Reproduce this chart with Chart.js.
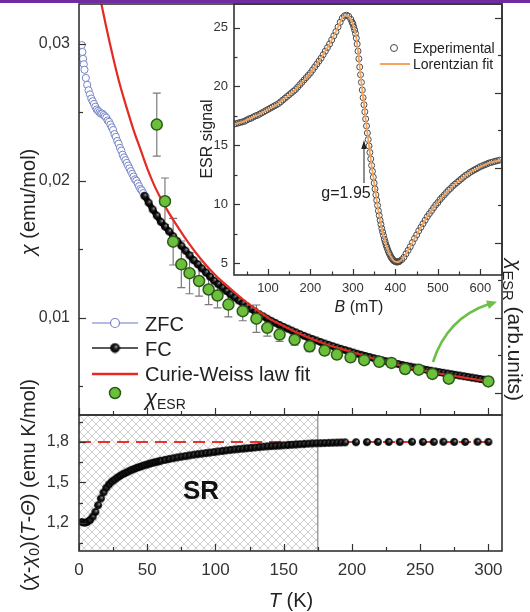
<!DOCTYPE html>
<html><head><meta charset="utf-8">
<script src="https://cdn.jsdelivr.net/npm/chart.js@4.4.1/dist/chart.umd.min.js"></script>
<style>
html,body{margin:0;padding:0;background:#fff;}
#wrap{position:relative;width:530px;height:612px;overflow:hidden;background:#fff;font-family:'Liberation Sans',Arial,Helvetica,sans-serif;color:#222;}
#wrap canvas{position:absolute;left:0;top:0;}
#wrap svg{position:absolute;left:0;top:0;}
.t{position:absolute;white-space:nowrap;line-height:1;}
.c{transform:translate(-50%,-50%);}
.l{transform:translateY(-50%);}
.up{transform:translate(-50%,-50%) rotate(-90deg);}
.dn{transform:translate(-50%,-50%) rotate(90deg);}
sub{font-size:70%;vertical-align:-0.3em;line-height:0;}
#bar{position:absolute;left:0;top:0;width:530px;height:3px;background:#6f2c9f;}
</style></head><body>
<div id="wrap">
<canvas id="cLow" width="530" height="612"></canvas>
<canvas id="cIns" width="530" height="612"></canvas>
<canvas id="cUp" width="530" height="612"></canvas>
<svg width="530" height="612">
  <path d="M433,362 Q447,318 489,304" stroke="#6cc04a" stroke-width="2.6" fill="none"/>
  <polygon points="497,301.7 488.9,309.1 486.1,300.5" fill="#6cc04a"/>
  <line x1="364" y1="183" x2="364" y2="147" stroke="#333" stroke-width="1.1"/>
  <polygon points="364,140 361.3,149 366.7,149" fill="#222"/>
</svg>
<div class="t up" style="left:28px;top:202px;font-size:20px"><i>χ</i> (emu/mol)</div>
<div class="t up" style="left:28px;top:485px;font-size:20px">(<i>χ</i>-<i>χ</i><sub>0</sub>)(<i>T</i>-<i>Θ</i>) (emu K/mol)</div>
<div class="t c" style="left:291px;top:600px;font-size:20px"><i>T</i> (K)</div>
<div class="t c" style="left:201px;top:490px;font-size:26px;font-weight:bold;color:#111">SR</div>
<div class="t up" style="left:207px;top:139px;font-size:16px">ESR signal</div>
<div class="t c" style="left:359px;top:307px;font-size:16px"><i>B</i> (mT)</div>
<div class="t c" style="left:346px;top:193px;font-size:16px">g=1.95</div>
<div class="t l" style="left:413px;top:48px;font-size:14px">Experimental</div>
<div class="t l" style="left:413px;top:64px;font-size:14px">Lorentzian fit</div>
<div class="t dn" style="left:515px;top:330px;font-size:21px"><i>χ</i><sub>ESR</sub> (arb.units)</div>
<div class="t l" style="left:145px;top:324px;font-size:20px">ZFC</div>
<div class="t l" style="left:145px;top:349px;font-size:20px">FC</div>
<div class="t l" style="left:145px;top:374px;font-size:20px">Curie-Weiss law fit</div>
<div class="t l" style="left:145px;top:398px;font-size:20px"><i style="font-size:22px">χ</i><sub>ESR</sub></div>
<div id="bar"></div>
</div>
<script>
// ---------------- data ----------------
const tMajor = [0, 50, 100, 150, 200, 250, 300];
const tLabels = ['0', '50', '100', '150', '200', '250', '300'];
const tMinor = [25, 75, 125, 175, 225, 275];

const upperYMajor = [0.01, 0.02, 0.03];
const upperYLabels = ['0,01', '0,02', '0,03'];
const upperYMinor = [0.005, 0.015, 0.025];
const rightMajor = [0, 2, 4, 6, 8, 10];
const rightMinor = [1, 3, 5, 7, 9];

const lowerYMajor = [1.2, 1.5, 1.8];
const lowerYLabels = ['1,2', '1,5', '1,8'];
const lowerYMinor = [1.05, 1.35, 1.65, 1.95];

const insetXMajor = [100, 200, 300, 400, 500, 600];
const insetXLabels = ['100', '200', '300', '400', '500', '600'];
const insetXMinor = [50, 150, 250, 350, 450, 550];
const insetYMajor = [5, 10, 15, 20, 25];
const insetYLabels = ['5', '10', '15', '20', '25'];
const insetYMinor = [7.5, 12.5, 17.5, 22.5];

// ZFC susceptibility
const zfcT = [2, 2.5, 3, 3.5, 4, 5, 6, 7, 8, 9, 10, 11, 12, 13, 14, 15, 16, 17, 18, 19, 20, 21, 22, 23, 24, 25, 26, 27, 28, 29, 30, 31, 32, 33, 34, 35, 36, 37, 38, 39, 40, 41, 42, 43, 44, 45, 46, 47, 48, 49];
const zfcChi = [0.0299, 0.0294, 0.0289, 0.0285, 0.0281, 0.0275, 0.0270, 0.0266, 0.0263, 0.0260, 0.0258, 0.0256, 0.0254, 0.0252, 0.0251, 0.0250, 0.0249, 0.0249, 0.0248, 0.0247, 0.0246, 0.0244, 0.0243, 0.0241, 0.0239, 0.0237, 0.0234, 0.0232, 0.0229, 0.0227, 0.0224, 0.0222, 0.0219, 0.0217, 0.0215, 0.0213, 0.0211, 0.0209, 0.0207, 0.0205, 0.0203, 0.0201, 0.0200, 0.0198, 0.0196, 0.0194, 0.0193, 0.0191, 0.0189, 0.0188];

// FC susceptibility
const fcT = [48, 51, 54, 57, 60, 63, 66, 69, 72, 75, 78, 81, 84, 87, 90, 93, 96, 99, 102, 105, 108, 111, 114, 117, 120, 123, 126, 129, 132, 135, 138, 141, 144, 147, 150, 153, 156, 159, 162, 165, 168, 171, 174, 177, 180, 183, 186, 189, 192, 195, 198, 201, 204, 207, 210, 213, 216, 219, 222, 225, 228, 231, 234, 237, 240, 243, 246, 249, 252, 255, 258, 261, 264, 267, 270, 273, 276, 279, 282, 285, 288, 291, 294, 297, 300];
const fcChi = [0.0189, 0.0184, 0.0179, 0.01745, 0.0170, 0.01665, 0.0163, 0.01595, 0.0156, 0.01525, 0.0149, 0.01455, 0.0142, 0.0139, 0.0136, 0.0133, 0.0130, 0.0127, 0.01245, 0.0122, 0.01195, 0.0117, 0.01148, 0.01126, 0.01105, 0.01085, 0.01065, 0.01045, 0.01027, 0.0101, 0.00993, 0.00977, 0.00962, 0.00947, 0.00933, 0.0092, 0.00906, 0.00893, 0.0088, 0.00868, 0.00856, 0.00845, 0.00834, 0.00823, 0.00812, 0.00802, 0.00792, 0.00782, 0.00773, 0.00764, 0.00755, 0.00746, 0.00737, 0.00729, 0.00721, 0.00713, 0.00705, 0.00697, 0.0069, 0.00683, 0.00676, 0.00669, 0.00662, 0.00655, 0.00649, 0.00643, 0.00637, 0.00631, 0.00625, 0.00619, 0.00613, 0.00608, 0.00603, 0.00598, 0.00593, 0.00588, 0.00583, 0.00578, 0.00573, 0.00568, 0.00563, 0.00558, 0.00553, 0.00548, 0.00543];

// Curie-Weiss law fit
const cwT = [16, 20, 25, 30, 35, 40, 45, 50, 55, 60, 65, 70, 80, 90, 100, 110, 120, 130, 140, 150, 160, 180, 200, 220, 240, 260, 280, 300];
const cwChi = [0.0331, 0.0312, 0.0290, 0.0270, 0.0253, 0.0237, 0.0223, 0.0209, 0.0197, 0.0187, 0.0178, 0.0170, 0.0155, 0.0142, 0.0131, 0.0122, 0.01135, 0.0106, 0.0099, 0.0094, 0.0089, 0.0081, 0.0075, 0.0069, 0.00643, 0.0060, 0.00567, 0.00535];

// chi_ESR with error bars
const esrT = [57, 63, 69, 75, 81, 88, 95, 101.5, 109.5, 120, 130, 138, 147, 158, 169, 180, 189, 199, 209, 220, 229, 239, 249, 259, 271, 300];
const esrChi = [0.0241, 0.0185, 0.01555, 0.0139, 0.01325, 0.01268, 0.01206, 0.01162, 0.01096, 0.01048, 0.00993, 0.00926, 0.00877, 0.0084, 0.00792, 0.0076, 0.00731, 0.00711, 0.0069, 0.00678, 0.0067, 0.00626, 0.00621, 0.0059, 0.00555, 0.00535];
const esrErr = [0.0023, 0.0017, 0.0017, 0.0017, 0.0015, 0.0011, 0.0011, 0.0009, 0.0009, 0.0007, 0.0010, 0.0006, 0.0005, 0.0004, 0.0004, 0.0003, 0.0003, 0.0003, 0.0003, 0.0003, 0.0003, 0.0003, 0.0003, 0.0003, 0.0003, 0.0003];

// (chi-chi0)(T-Theta) product (lower panel)
const prodT = [2, 4, 6, 8, 10, 12, 14, 16, 18, 20, 22, 24, 26, 28, 30, 32, 34, 36, 38, 40, 42, 44, 46, 48, 50, 52, 54, 56, 58, 60,
  63, 66, 69, 72, 75, 78, 81, 84, 87, 90, 93, 96, 99, 102, 105, 108, 111, 114, 117, 120, 123, 126, 129, 132, 135, 138, 141, 144, 147, 150, 153, 156, 159, 162, 165, 168, 171, 174, 177, 180, 183, 186, 189, 192, 195,
  203, 211, 219, 227, 235, 244, 252, 260, 267, 275, 283, 292, 300];
const prodVal = [1.205, 1.200, 1.205, 1.22, 1.245, 1.28, 1.33, 1.38, 1.425, 1.46, 1.485, 1.505, 1.52, 1.535, 1.548, 1.56, 1.57, 1.58, 1.59, 1.598, 1.606, 1.613, 1.62, 1.627, 1.633, 1.639, 1.645, 1.65, 1.655, 1.66,
  1.667, 1.673, 1.679, 1.685, 1.69, 1.695, 1.70, 1.705, 1.709, 1.713, 1.717, 1.721, 1.725, 1.729, 1.733, 1.737, 1.741, 1.744, 1.747, 1.75, 1.753, 1.756, 1.759, 1.762, 1.765, 1.767, 1.769, 1.771, 1.773, 1.775, 1.777, 1.779, 1.781, 1.783, 1.785, 1.787, 1.789, 1.79, 1.791, 1.792, 1.793, 1.794, 1.795, 1.796, 1.797,
  1.798, 1.799, 1.80, 1.80, 1.80, 1.801, 1.80, 1.80, 1.801, 1.80, 1.80, 1.801, 1.80];
const cwLevel = 1.8;
const cwLevelT = [0, 305];
const srEndT = 175;

// inset ESR spectrum
const esrField = [20, 25, 30, 35, 40, 45, 50, 55, 60, 65, 70, 75, 80, 85, 90, 95, 100, 105, 110, 115, 120, 125, 130, 135, 140, 145, 150, 155, 160, 165, 170, 175, 180, 185, 190, 195, 200, 205, 210, 215, 220, 225, 230, 235, 240, 245, 250, 255, 260, 265, 270, 275, 280, 285, 290, 295,
  298, 300, 302, 304, 306, 308, 310, 312, 314, 316, 318, 320, 322, 324, 326, 328, 330, 332, 334, 336, 338, 340, 342, 344, 346, 348, 350, 352, 354, 356, 358, 360, 362, 364, 366, 368, 370, 372, 374, 376, 378, 380, 382, 384, 386, 388, 390, 392, 394, 396, 398, 400, 402, 404, 406, 408, 410,
  415, 420, 425, 430, 435, 440, 445, 450, 455, 460, 465, 470, 475, 480, 485, 490, 495, 500, 505, 510, 515, 520, 525, 530, 535, 540, 545, 550, 555, 560, 565, 570, 575, 580, 585, 590, 595, 600, 605, 610, 615, 620, 625, 630, 635, 640, 645];
const esrSignal = [16.8, 16.85, 16.9, 16.95, 17.0, 17.05, 17.15, 17.25, 17.3, 17.4, 17.5, 17.55, 17.65, 17.75, 17.85, 17.95, 18.05, 18.15, 18.25, 18.35, 18.45, 18.55, 18.7, 18.85, 19.0, 19.15, 19.3, 19.45, 19.6, 19.75, 19.95, 20.15, 20.35, 20.55, 20.75, 20.95, 21.15, 21.4, 21.65, 21.9, 22.15, 22.4, 22.7, 23.0, 23.3, 23.6, 23.95, 24.3, 24.65, 25.05, 25.45, 25.8, 26.0, 26.05, 25.95, 25.7,
  25.45, 25.3, 25.05, 24.8, 24.5, 24.1, 23.6, 23.0, 22.35, 21.65, 21.0, 20.35, 19.7, 19.05, 18.45, 17.85, 17.25, 16.65, 16.05, 15.5, 14.95, 14.4, 13.85, 13.3, 12.8, 12.3, 11.8, 11.3, 10.8, 10.35, 9.9, 9.45, 9.05, 8.65, 8.3, 7.95, 7.65, 7.35, 7.05, 6.8, 6.55, 6.35, 6.15, 5.95, 5.8, 5.65, 5.5, 5.4, 5.3, 5.22, 5.17, 5.13, 5.11, 5.1, 5.11, 5.13, 5.17,
  5.3, 5.5, 5.8, 6.1, 6.4, 6.75, 7.1, 7.4, 7.75, 8.05, 8.35, 8.65, 8.95, 9.2, 9.45, 9.7, 9.95, 10.15, 10.4, 10.6, 10.8, 11.0, 11.2, 11.35, 11.55, 11.7, 11.85, 12.0, 12.15, 12.3, 12.45, 12.55, 12.7, 12.8, 12.9, 13.0, 13.1, 13.2, 13.27, 13.35, 13.42, 13.5, 13.55, 13.6, 13.65, 13.7, 13.75];

// ---------------- helpers ----------------
const FONT = "'Liberation Sans', Arial, Helvetica, sans-serif";
Chart.defaults.font.family = FONT;
Chart.defaults.color = '#333';

function pts(xs, ys) {
  const n = Math.min(xs.length, ys.length), out = [];
  for (let i = 0; i < n; i++) out.push({ x: xs[i], y: ys[i] });
  return out;
}
function sphere(r) {
  const s = Math.ceil(2 * r + 2), c = document.createElement('canvas');
  c.width = c.height = s;
  const x = c.getContext('2d'), m = s / 2;
  const g = x.createRadialGradient(m + r * 0.35, m - r * 0.35, 0.1, m, m, r);
  g.addColorStop(0, '#eeeeee'); g.addColorStop(0.22, '#555'); g.addColorStop(0.55, '#161616'); g.addColorStop(1, '#000');
  x.fillStyle = g; x.beginPath(); x.arc(m, m, r, 0, Math.PI * 2); x.fill();
  x.strokeStyle = '#000'; x.lineWidth = 0.8; x.stroke();
  return c;
}
const ballSmall = sphere(3.6);
const ballLegend = sphere(4.5);

function hatchPattern(ctx) {
  const c = document.createElement('canvas'); c.width = c.height = 8;
  const x = c.getContext('2d');
  x.strokeStyle = '#c2c2c2'; x.lineWidth = 0.8;
  x.beginPath(); x.moveTo(-1, -1); x.lineTo(9, 9); x.moveTo(-1, 9); x.lineTo(9, -1); x.stroke();
  return ctx.createPattern(c, 'repeat');
}

function inTicks(specs) {
  return {
    id: 'inTicks',
    afterDatasetsDraw(chart) {
      const ctx = chart.ctx, a = chart.chartArea;
      ctx.save(); ctx.strokeStyle = '#333'; ctx.lineWidth = 1.2;
      for (const sp of specs) {
        const s = chart.scales[sp.axis];
        for (const v of sp.values) {
          const p = Math.round(s.getPixelForValue(v)) + 0.5;
          ctx.beginPath();
          if (sp.side === 'b') { ctx.moveTo(p, a.bottom); ctx.lineTo(p, a.bottom - sp.len); }
          else if (sp.side === 'l') { ctx.moveTo(a.left, p); ctx.lineTo(a.left + sp.len, p); }
          else if (sp.side === 'r') { ctx.moveTo(a.right, p); ctx.lineTo(a.right - sp.len, p); }
          ctx.stroke();
        }
      }
      ctx.lineWidth = 1.6; ctx.strokeStyle = '#333';
      ctx.strokeRect(a.left, a.top, a.right - a.left, a.bottom - a.top);
      ctx.restore();
    }
  };
}
function noPad(s) { s.paddingTop = 0; s.paddingBottom = 0; s.paddingLeft = 0; s.paddingRight = 0; }
function yAxis(min, max, major, labels, width, pad, size) {
  return {
    type: 'linear', position: 'left', min, max,
    grid: { display: false, drawTicks: false }, border: { display: false },
    afterFit: s => { s.width = width; noPad(s); },
    afterBuildTicks: s => { s.ticks = major.map(v => ({ value: v })); },
    ticks: { padding: pad, color: '#333', font: { size, family: FONT }, autoSkip: false, callback: (v, i) => labels[i] }
  };
}
function xAxis(min, max, major, labels, height, pad, size) {
  return {
    type: 'linear', position: 'bottom', min, max,
    grid: { display: false, drawTicks: false }, border: { display: false },
    afterFit: s => { s.height = height; noPad(s); },
    afterBuildTicks: s => { s.ticks = major.map(v => ({ value: v })); },
    ticks: { padding: pad, color: '#333', maxRotation: 0, autoSkip: false, font: { size, family: FONT }, callback: (v, i) => labels[i] }
  };
}
const common = { responsive: false, animation: false, events: [], plugins: { legend: { display: false }, tooltip: { enabled: false } } };

// ---------------- lower panel ----------------
const lowCtx = document.getElementById('cLow').getContext('2d');
new Chart(lowCtx, {
  type: 'line',
  data: {
    datasets: [
      { data: pts(prodT, prodVal), showLine: false, pointStyle: ballSmall, pointRadius: 3.6 },
      { data: pts(cwLevelT, [cwLevel, cwLevel]), borderColor: '#e8332a', borderWidth: 2, borderDash: [12, 7], pointRadius: 0 },
      { data: pts([srEndT, srEndT], [0.99, 2.0]), borderColor: '#8a8a8a', borderWidth: 1.2, pointRadius: 0 },
      { data: pts([0, srEndT], [2.0, 2.0]), borderWidth: 0, borderColor: 'rgba(0,0,0,0)', pointRadius: 0, fill: 'start', backgroundColor: hatchPattern(lowCtx) }
    ]
  },
  options: Object.assign({}, common, {
    layout: { autoPadding: false, padding: { left: 0, right: 28, top: 415, bottom: 21 } },
    scales: {
      x: xAxis(0, 310, tMajor, tLabels, 40, 9, 17),
      y: yAxis(0.99, 2.0, lowerYMajor, lowerYLabels, 79, 10, 16)
    }
  }),
  plugins: [inTicks([
    { axis: 'x', side: 'b', values: tMajor, len: 7 }, { axis: 'x', side: 'b', values: tMinor, len: 4 },
    { axis: 'y', side: 'l', values: lowerYMajor, len: 7 }, { axis: 'y', side: 'l', values: lowerYMinor, len: 4 }
  ])]
});

// ---------------- inset ----------------
new Chart(document.getElementById('cIns'), {
  type: 'line',
  data: {
    datasets: [
      { data: pts(esrField, esrSignal), borderColor: '#f3a45e', borderWidth: 1.8, pointRadius: 0 },
      { data: pts(esrField, esrSignal), showLine: false, pointRadius: 3, pointBorderColor: '#4a4a4a', pointBackgroundColor: 'rgba(0,0,0,0)', pointBorderWidth: 1 }
    ]
  },
  options: Object.assign({}, common, {
    layout: { autoPadding: false, padding: { left: 0, right: 28, top: 4, bottom: 307 } },
    scales: {
      x: xAxis(20, 651, insetXMajor, insetXLabels, 30, 6, 13),
      y: yAxis(4, 27, insetYMajor, insetYLabels, 234, 6, 13)
    }
  }),
  plugins: [inTicks([
    { axis: 'x', side: 'b', values: insetXMajor, len: 6 }, { axis: 'x', side: 'b', values: insetXMinor, len: 3.5 },
    { axis: 'y', side: 'l', values: insetYMajor, len: 6 }, { axis: 'y', side: 'l', values: insetYMinor, len: 3.5 }
  ]), {
    id: 'insetLegend',
    afterDraw(chart) {
      const c = chart.ctx; c.save();
      c.strokeStyle = '#444'; c.lineWidth = 1; c.beginPath(); c.arc(394, 48, 3.5, 0, Math.PI * 2); c.stroke();
      c.strokeStyle = '#f3a45e'; c.lineWidth = 2; c.beginPath(); c.moveTo(380, 64); c.lineTo(410, 64); c.stroke();
      c.restore();
    }
  }]
});

// ---------------- upper panel ----------------
new Chart(document.getElementById('cUp'), {
  type: 'line',
  data: {
    datasets: [
      { data: pts(esrT, esrChi), showLine: false, pointRadius: 5.5, pointBackgroundColor: '#6bbf3b', pointBorderColor: '#2c5a1a', pointBorderWidth: 1.5 },
      { data: pts(cwT, cwChi), borderColor: '#e32b24', borderWidth: 2.2, pointRadius: 0, cubicInterpolationMode: 'monotone' },
      { data: pts(fcT, fcChi), showLine: false, pointStyle: ballSmall, pointRadius: 3.6 },
      { data: pts(fcT, fcChi), showLine: true, borderColor: '#111', borderWidth: 6, pointRadius: 0, cubicInterpolationMode: 'monotone' },
      { data: pts(zfcT, zfcChi), showLine: true, borderColor: '#a8b2e0', borderWidth: 1, pointRadius: 3.6, pointBackgroundColor: '#fff', pointBorderColor: '#7584c8', pointBorderWidth: 1 }
    ]
  },
  options: Object.assign({}, common, {
    layout: { autoPadding: false, padding: { left: 0, right: 28, top: 4, bottom: 197 } },
    scales: {
      x: { type: 'linear', min: 0, max: 310, display: false },
      y: yAxis(0.0029, 0.0329, upperYMajor, upperYLabels, 79, 9, 16),
      y2: { type: 'linear', position: 'right', display: false, min: -0.5867, max: 10.373 }
    }
  }),
  plugins: [{
    id: 'errBars',
    beforeDatasetsDraw(chart) {
      const c = chart.ctx, xs = chart.scales.x, ys = chart.scales.y;
      c.save(); c.strokeStyle = '#7a7a7a'; c.lineWidth = 1.2;
      for (let i = 0; i < esrT.length; i++) {
        const x = xs.getPixelForValue(esrT[i]);
        const y1 = ys.getPixelForValue(esrChi[i] + esrErr[i]), y2 = ys.getPixelForValue(esrChi[i] - esrErr[i]);
        c.beginPath(); c.moveTo(x, y1); c.lineTo(x, y2);
        c.moveTo(x - 4, y1); c.lineTo(x + 4, y1); c.moveTo(x - 4, y2); c.lineTo(x + 4, y2); c.stroke();
      }
      c.restore();
    }
  }, inTicks([
    { axis: 'x', side: 'b', values: tMajor, len: 7 }, { axis: 'x', side: 'b', values: tMinor, len: 4 },
    { axis: 'y', side: 'l', values: upperYMajor, len: 7 }, { axis: 'y', side: 'l', values: upperYMinor, len: 4 },
    { axis: 'y2', side: 'r', values: rightMajor, len: 7 }, { axis: 'y2', side: 'r', values: rightMinor, len: 4 }
  ]), {
    id: 'mainLegend',
    afterDraw(chart) {
      const c = chart.ctx; c.save();
      c.strokeStyle = '#9aa6d8'; c.lineWidth = 1.5; c.beginPath(); c.moveTo(92, 323); c.lineTo(138, 323); c.stroke();
      c.fillStyle = '#fff'; c.strokeStyle = '#7584c8'; c.lineWidth = 1.2; c.beginPath(); c.arc(115, 323, 4.5, 0, Math.PI * 2); c.fill(); c.stroke();
      c.strokeStyle = '#222'; c.lineWidth = 1.5; c.beginPath(); c.moveTo(92, 348); c.lineTo(138, 348); c.stroke();
      c.drawImage(ballLegend, 115 - ballLegend.width / 2, 348 - ballLegend.height / 2);
      c.strokeStyle = '#e32b24'; c.lineWidth = 2.6; c.beginPath(); c.moveTo(92, 374); c.lineTo(138, 374); c.stroke();
      c.fillStyle = '#6bbf3b'; c.strokeStyle = '#2c5a1a'; c.lineWidth = 1.5; c.beginPath(); c.arc(115, 393, 5.5, 0, Math.PI * 2); c.fill(); c.stroke();
      c.restore();
    }
  }]
});
</script>
</body></html>
